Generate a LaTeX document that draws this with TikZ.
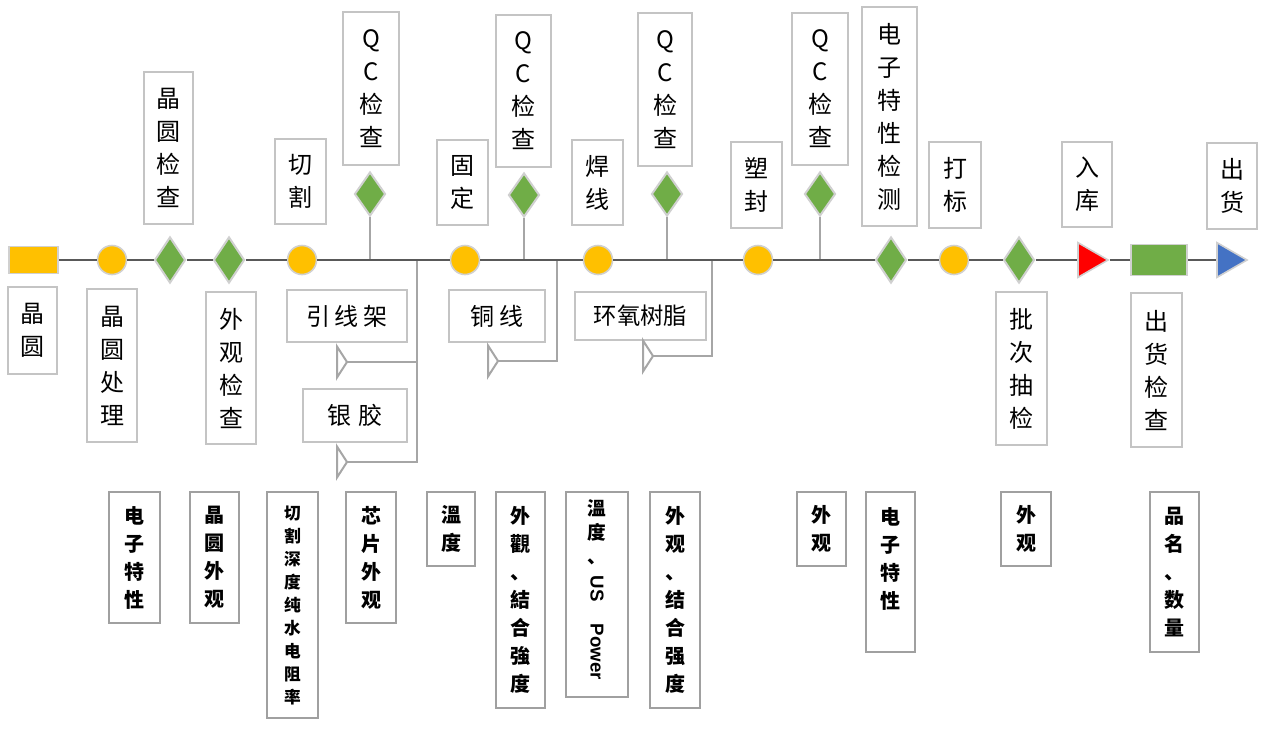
\documentclass[tikz,border=0pt]{standalone}
\usepackage{fontspec}
\usepackage{graphicx}
\setmainfont{Noto Sans CJK SC}
\newfontfamily\arialfont{Liberation Sans}
\usetikzlibrary{shapes.geometric}
\definecolor{ygold}{HTML}{FFC000}
\definecolor{dgreen}{HTML}{70AD47}
\definecolor{rred}{HTML}{FF0000}
\definecolor{bblue}{HTML}{4472C4}
\definecolor{mainline}{HTML}{595959}
\definecolor{branchgray}{HTML}{A6A6A6}
\definecolor{ringgray}{HTML}{D0D0D0}
\definecolor{topbox}{HTML}{C4C4C4}
\definecolor{botbox}{HTML}{A0A0A0}
\newcommand\mkbox[7]{\node[#1, minimum width={(#5-#3)*0.75pt}, minimum height={(#6-#4)*0.75pt}] (#2) at ({(#3+#5)/2},{(#4+#6)/2}) {#7};}
\begin{document}
\begin{tikzpicture}[x=0.75pt,y=-0.75pt,
  tbox/.style={draw=topbox, line width=0.8pt, fill=white, inner sep=0pt, align=center, font=\fontsize{18}{24.75}\selectfont},
  bbox/.style={draw=botbox, line width=1.5pt, fill=white, inner sep=0pt, align=center, font=\fontsize{15}{21}\selectfont\bfseries},
  dot/.style={circle, fill=ygold, draw=ringgray, line width=1.2pt, minimum size=29*0.75pt, inner sep=0pt},
  dia/.style={diamond, fill=dgreen, draw=ringgray, line width=1.5pt, minimum width=31*0.75pt, minimum height=46*0.75pt, inner sep=0pt},
  tri/.style={regular polygon, regular polygon sides=3, shape border rotate=-90, draw=ringgray, line width=1.2pt, minimum size=40*0.75pt, inner sep=0pt},
  bar/.style={rectangle, draw=ringgray, line width=1.2pt, inner sep=0pt},
  mainln/.style={draw=mainline, line width=2pt},
  branch/.style={draw=branchgray, line width=1.5pt},
  callout/.style={draw=branchgray, line width=1.5pt, fill=white, line join=miter}
]
\useasboundingbox (0,0) rectangle (1270,729);

% ---- main line nodes ----
\node[bar, fill=ygold, minimum width=49*0.75pt, minimum height=27*0.75pt] (ys) at (33.5,260) {};
\node[dot] (c1) at (112,260) {};
\node[dia] (d1) at (170,260) {};
\node[dia] (d2) at (229,260) {};
\node[dot] (c2) at (302,260) {};
\node[dot] (c3) at (465,260) {};
\node[dot] (c4) at (598,260) {};
\node[dot] (c5) at (758,260) {};
\node[dia] (d3) at (891,260) {};
\node[dot] (c6) at (954,260) {};
\node[dia] (d4) at (1019,260) {};
\node[tri, fill=rred] (rt) at (1088,260) {};
\node[bar, fill=dgreen, minimum width=56*0.75pt, minimum height=31*0.75pt] (gr) at (1159,260) {};
\node[tri, fill=bblue] (bt) at (1227,260) {};

% ---- QC diamonds above ----
\node[dia, minimum height=44*0.75pt] (q1) at (370,194) {};
\node[dia, minimum height=44*0.75pt] (q2) at (524,195) {};
\node[dia, minimum height=44*0.75pt] (q3) at (667,194) {};
\node[dia, minimum height=44*0.75pt] (q4) at (820,194) {};

% ---- top labels ----
\mkbox{tbox}{tQC1}{343}{12}{399}{165}{Q\\C\\检\\查}
\mkbox{tbox}{tJYJC}{144}{72}{193}{224}{晶\\圆\\检\\查}
\mkbox{tbox}{tQG}{275}{139}{326}{224}{切\\割}
\mkbox{tbox}{tGD}{437}{140}{488}{225}{固\\定}
\mkbox{tbox}{tQC2}{496}{15}{551}{167}{Q\\C\\检\\查}
\mkbox{tbox}{tHX}{572}{140}{623}{225}{焊\\线}
\mkbox{tbox}{tQC3}{638}{13}{692}{166}{Q\\C\\检\\查}
\mkbox{tbox}{tSF}{731}{142}{782}{228}{塑\\封}
\mkbox{tbox}{tQC4}{792}{13}{848}{165}{Q\\C\\检\\查}
\mkbox{tbox}{tDZ}{862}{7}{917}{226}{电\\子\\特\\性\\检\\测}
\mkbox{tbox}{tDB}{929}{142}{981}{228}{打\\标}
\mkbox{tbox}{tRK}{1062}{142}{1112}{227}{入\\库}
\mkbox{tbox}{tCH}{1207}{143}{1257}{229}{出\\货}

% ---- middle labels ----
\mkbox{tbox}{mJY}{8}{287}{57}{374}{晶\\圆}
\mkbox{tbox}{mJYCL}{87}{289}{137}{442}{晶\\圆\\处\\理}
\mkbox{tbox}{mWGJC}{206}{292}{256}{444}{外\\观\\检\\查}
\mkbox{tbox}{mYXJ}{287}{290}{407}{342}{引\hspace{3.5pt}线\hspace{3.5pt}架}
\mkbox{tbox}{mYJ}{303}{389}{407}{442}{银\hspace{5pt}胶}
\mkbox{tbox}{mTX}{449}{290}{545}{342}{铜\hspace{4pt}线}
\mkbox{tbox, font=\fontsize{17.5}{24}\selectfont}{mHY}{575}{292}{706}{340}{环氧树脂}
\mkbox{tbox}{mPC}{996}{292}{1047}{445}{批\\次\\抽\\检}
\mkbox{tbox}{mCHJC}{1131}{293}{1182}{447}{出\\货\\检\\查}

% ---- bottom labels ----
\mkbox{bbox}{b1}{109}{492}{160}{623}{电\\子\\特\\性}
\mkbox{bbox}{b2}{190}{492}{239}{623}{晶\\圆\\外\\观}
\mkbox{bbox, font=\fontsize{12.5}{17.25}\selectfont\bfseries}{b3}{267}{492}{318}{718}{切\\割\\深\\度\\纯\\水\\电\\阻\\率}
\mkbox{bbox}{b4}{346}{492}{396}{623}{芯\\片\\外\\观}
\mkbox{bbox}{b5}{427}{492}{475}{566}{溫\\度}
\mkbox{bbox}{b6}{496}{492}{545}{708}{外\\觀\\、\\結\\合\\強\\度}
\mkbox{bbox, font=\fontsize{14}{18}\selectfont\bfseries}{b7}{566}{492}{628}{697}{溫\\度\\、\\[-9pt]\rotatebox{-90}{\arialfont\bfseries US\hspace{1.2em}Power}\\[6pt]}
\mkbox{bbox}{b8}{650}{492}{700}{708}{外\\观\\、\\结\\合\\强\\度}
\mkbox{bbox}{b9}{797}{492}{846}{566}{外\\观}
\mkbox{bbox}{b10}{866}{492}{915}{652}{电\\子\\特\\性\\\mbox{}}
\mkbox{bbox}{b11}{1001}{492}{1051}{566}{外\\观}
\mkbox{bbox}{b12}{1150}{492}{1199}{652}{品\\名\\、\\数\\量}

% ---- junctions on the main line ----
\coordinate (jq1) at (370,260);
\coordinate (jq2) at (524,260);
\coordinate (jq3) at (667,260);
\coordinate (jq4) at (820,260);
\coordinate (ja) at (417,260);
\coordinate (jb) at (557,260);
\coordinate (jc) at (712,260);
\coordinate (tA) at (347,362);
\coordinate (tB) at (347,462);
\coordinate (tC) at (498,361);
\coordinate (tD) at (653,356);

% ---- branches ----
\draw[branch] (q1) -- (jq1);
\draw[branch] (q2) -- (jq2);
\draw[branch] (q3) -- (jq3);
\draw[branch] (q4) -- (jq4);
\draw[branch] (ja) |- (tA);
\draw[branch] (ja) |- (tB);
\draw[branch] (jb) |- (tC);
\draw[branch] (jc) |- (tD);
\draw[callout] (tA) -- ++(-10,-15.5) -- ++(0,31) -- cycle;
\draw[callout] (tB) -- ++(-10,-15.5) -- ++(0,31) -- cycle;
\draw[callout] (tC) -- ++(-10,-15.5) -- ++(0,31) -- cycle;
\draw[callout] (tD) -- ++(-10,-15.5) -- ++(0,31) -- cycle;

% ---- main line ----
\draw[mainln] (ys) -- (c1) -- (d1) -- (d2) -- (c2) -- (c3) -- (c4) -- (c5) -- (d3) -- (c6) -- (d4) -- (rt) -- (gr) -- (bt);
\end{tikzpicture}
\end{document}
